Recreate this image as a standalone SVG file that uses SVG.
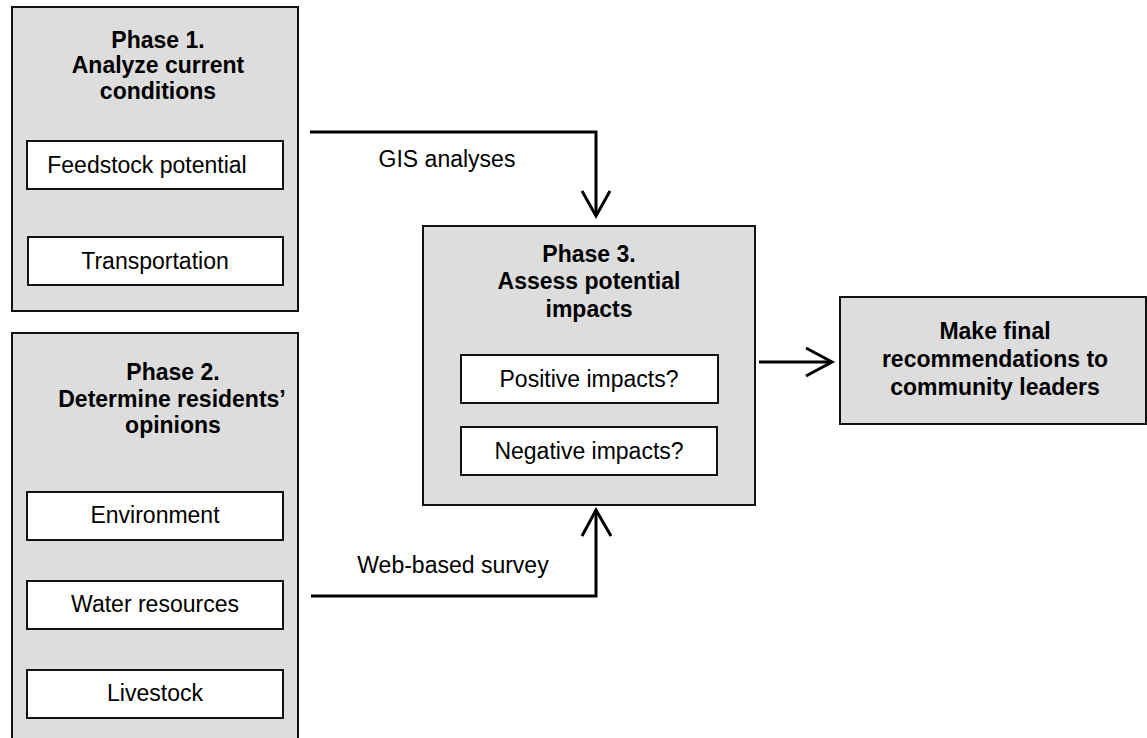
<svg xmlns="http://www.w3.org/2000/svg" width="1147" height="738" viewBox="0 0 1147 738">
<style>
.phase{fill:#dddddd;stroke:#111;stroke-width:2}
.sub{fill:#ffffff;stroke:#111;stroke-width:2}
.t{font-family:"Liberation Sans",Arial,sans-serif;font-size:23px;fill:#000;text-anchor:middle}
.b{font-weight:bold}
.conn{fill:none;stroke:#000;stroke-width:3;stroke-linejoin:miter}
.head{fill:none;stroke:#000;stroke-width:3;stroke-linecap:butt;stroke-linejoin:miter}
</style>
<rect width="1147" height="738" fill="#ffffff"/>
<g id="phase1">
<rect class="phase" x="12" y="7" width="286" height="304"/>
<text class="t b" x="158" y="48">Phase 1.</text>
<text class="t b" x="158" y="73">Analyze current</text>
<text class="t b" x="158" y="99">conditions</text>
<g id="feedstock"><rect class="sub" x="27" y="141" width="256" height="48"/><text class="t" x="147" y="173">Feedstock potential</text></g>
<g id="transportation"><rect class="sub" x="28" y="237" width="255" height="48"/><text class="t" x="155" y="269">Transportation</text></g>
</g>
<g id="phase2">
<rect class="phase" x="12" y="333" width="286" height="420"/>
<text class="t b" x="173" y="380">Phase 2.</text>
<text class="t b" x="172" y="407">Determine residents’</text>
<text class="t b" x="173" y="433">opinions</text>
<g id="environment"><rect class="sub" x="27" y="492" width="256" height="48"/><text class="t" x="155" y="523">Environment</text></g>
<g id="water"><rect class="sub" x="27" y="581" width="256" height="48"/><text class="t" x="155" y="612">Water resources</text></g>
<g id="livestock"><rect class="sub" x="27" y="670" width="256" height="48"/><text class="t" x="155" y="701">Livestock</text></g>
</g>
<g id="phase3">
<rect class="phase" x="423" y="226" width="332" height="279"/>
<text class="t b" x="589" y="262">Phase 3.</text>
<text class="t b" x="589" y="289">Assess potential</text>
<text class="t b" x="589" y="317">impacts</text>
<g id="positive"><rect class="sub" x="461" y="355" width="257" height="48"/><text class="t" x="589" y="387">Positive impacts?</text></g>
<g id="negative"><rect class="sub" x="461" y="427" width="256" height="48"/><text class="t" x="589" y="459">Negative impacts?</text></g>
</g>
<g id="final">
<rect class="phase" x="840" y="297" width="306" height="127"/>
<text class="t b" x="995" y="339">Make final</text>
<text class="t b" x="995" y="367">recommendations to</text>
<text class="t b" x="995" y="395">community leaders</text>
</g>
<g id="connectors">
<polyline class="conn" points="310,132 596,132 596,216"/>
<polyline class="head" points="582,191 596,216 610,191"/>
<text class="t" x="447" y="167">GIS analyses</text>
<polyline class="conn" points="311,596 596,596 596,510"/>
<polyline class="head" points="582,536 596,510 611,536"/>
<text class="t" x="453" y="573">Web-based survey</text>
<line class="conn" x1="759" y1="362" x2="832" y2="362"/>
<polyline class="head" points="806,348 832,362 806,376"/>
</g>
</svg>
